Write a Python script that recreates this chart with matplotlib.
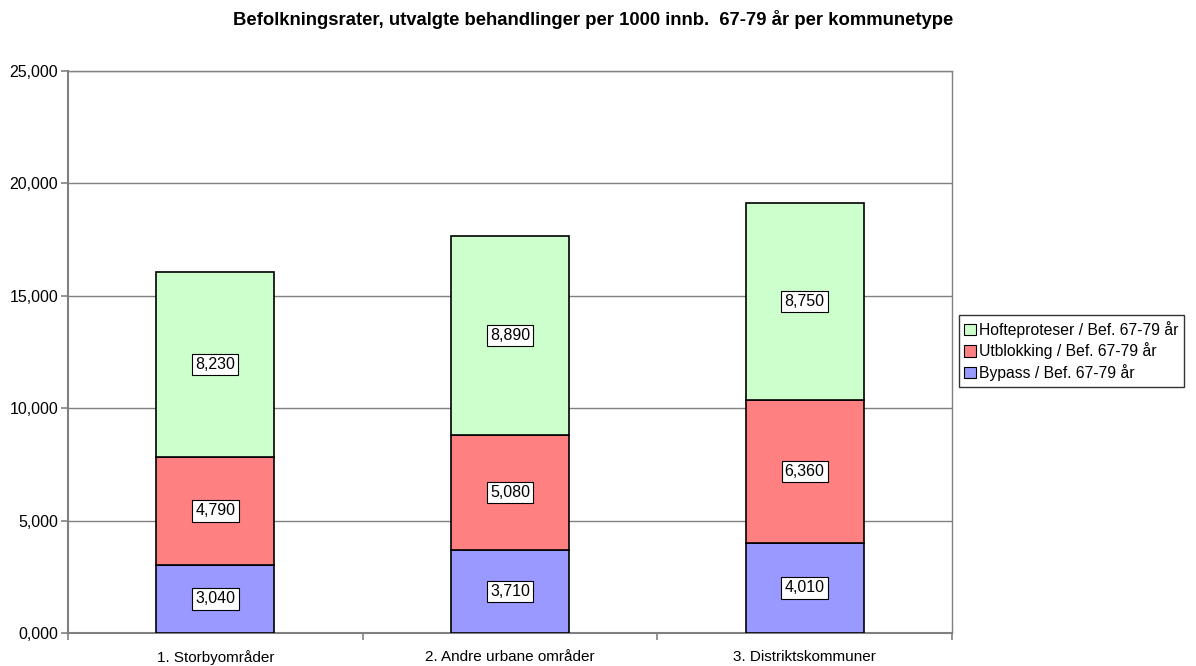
import numpy as np
import matplotlib.pyplot as plt
from matplotlib.patches import Patch

plt.rcParams['font.family'] = ['Liberation Sans', 'DejaVu Sans']

# data (rates per 1000 inhabitants, decimal comma in labels)
categories = ['1. Storbyområder', '2. Andre urbane områder', '3. Distriktskommuner']
bypass = [3.04, 3.71, 4.01]
utblokking = [4.79, 5.08, 6.36]
hofte = [8.23, 8.89, 8.75]
series_names = ['Bypass / Bef. 67-79 år', 'Utblokking / Bef. 67-79 år',
                'Hofteproteser / Bef. 67-79 år']
colors = ['#9999FF', '#FF8080', '#CCFFCC']
yticks = [0, 5, 10, 15, 20, 25]

def fmt(v):
    return f"{v:.3f}".replace('.', ',')

fig = plt.figure(figsize=(11.96, 6.66), dpi=100)
ax = fig.add_axes([68/1196, 33/666, 884/1196, 562/666])

x = np.arange(len(categories))
bottom = np.zeros(len(categories))
for vals, col in zip([bypass, utblokking, hofte], colors):
    bars = ax.bar(x, vals, width=0.4, bottom=bottom, color=col,
                  edgecolor='black', linewidth=1.2, zorder=3)
    for b, v in zip(bars, vals):
        ax.text(b.get_x() + b.get_width()/2, b.get_y() + b.get_height()/2,
                fmt(v), ha='center', va='center', fontsize=11.5, zorder=4,
                bbox=dict(boxstyle='square,pad=0.2', fc='white', ec='black', lw=0.8))
    bottom += np.array(vals)

ax.set_xlim(-0.5, len(categories) - 0.5)
ax.set_ylim(0, 25)
ax.set_yticks(yticks)
ax.set_yticklabels([fmt(t) for t in yticks], fontsize=11.5)
ax.set_xticks(x)
ax.set_xticklabels(categories, fontsize=11)
ax.tick_params(axis='x', length=0, pad=12)
ax.set_xticks(np.arange(-0.5, len(categories)), minor=True)
ax.tick_params(axis='x', which='minor', length=5, color='#808080', width=1.2)
ax.tick_params(axis='y', length=5, color='#808080', width=1.2, pad=2)
ax.yaxis.grid(True, color='#808080', linewidth=1.0, zorder=0)

for s in ['left', 'bottom']:
    ax.spines[s].set_color('#808080')
    ax.spines[s].set_linewidth(1.5)
for s in ['top', 'right']:
    ax.spines[s].set_color('#808080')
    ax.spines[s].set_linewidth(1.0)

fig.suptitle('Befolkningsrater, utvalgte behandlinger per 1000 innb.  67-79 år per kommunetype',
             x=0.496, y=0.985, fontsize=13.3, fontweight='bold')

handles = [Patch(facecolor=c, edgecolor='black', linewidth=0.8) for c in colors]
leg = fig.legend(handles[::-1], series_names[::-1], loc='center left',
                 bbox_to_anchor=(959/1196, 1 - 351/666), fontsize=11.3,
                 frameon=True, fancybox=False, edgecolor='black',
                 handlelength=0.75, handleheight=0.75, handletextpad=0.2,
                 borderpad=0.35, labelspacing=0.3, borderaxespad=0)
leg.get_frame().set_linewidth(1.0)

fig.savefig('out.png', dpi=100)
